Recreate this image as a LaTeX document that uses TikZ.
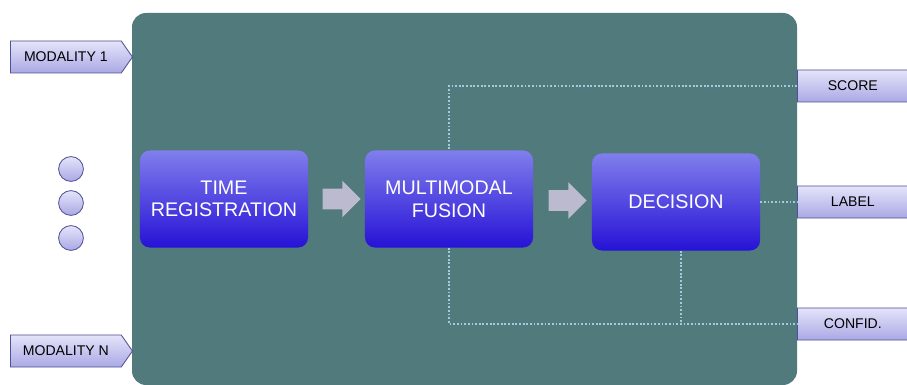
\documentclass[tikz,border=0pt]{standalone}
\usepackage{fontspec}
\setmainfont{Liberation Sans}
\usetikzlibrary{shapes.symbols,shapes.arrows,calc}

\definecolor{panelteal}{RGB}{80,122,124}
\definecolor{blocktop}{RGB}{128,126,236}
\definecolor{blockbot}{RGB}{38,18,214}
\definecolor{tagtop}{RGB}{228,228,250}
\definecolor{tagbot}{RGB}{170,168,228}
\definecolor{tagline}{RGB}{80,80,150}
\definecolor{arrowgray}{RGB}{188,186,206}
\definecolor{dotblue}{RGB}{160,204,222}

\tikzset{
	block/.style={rounded corners=7pt, minimum width=4.2cm, minimum height=2.425cm,
		top color=blocktop, bottom color=blockbot, text=white, align=center,
		font=\fontsize{14}{16}\selectfont},
	tag/.style={signal, signal to=east, signal pointer angle=110, draw=tagline, line width=0.6pt,
		top color=tagtop, bottom color=tagbot, minimum width=3.05cm, minimum height=0.8cm,
		inner sep=2pt, font=\fontsize{10}{12}\selectfont},
	flow/.style={single arrow, fill=arrowgray, minimum height=0.95cm, inner sep=0.25cm,
		single arrow head extend=0.2cm, single arrow head indent=0cm},
	bullet/.style={circle, draw=tagline, line width=0.6pt, top color=tagtop, bottom color=tagbot,
		minimum size=0.62cm, inner sep=0pt},
	link/.style={dotblue, dash pattern=on 1.3pt off 1.3pt, line width=1.8pt}
}

\begin{document}
\begin{tikzpicture}[x=0.025cm,y=-0.025cm]
	\clip (0,0) rectangle (907,385);
	\fill[white] (0,0) rectangle (907,385);
	% panel
	\fill[panelteal, rounded corners=10pt] (132,13) rectangle (797,385);

	% processing blocks
	\node[block] (timereg) at (224,199) {TIME\\REGISTRATION};
	\node[block] (fusion) at (449,199) {MULTIMODAL\\FUSION};
	\node[block] (decision) at (676,202) {DECISION};
	\node[flow] (arr1) at ($(timereg.east)!0.5!(fusion.west)$) {};
	\node[flow] (arr2) at ($(fusion.east)!0.5!(decision.west)$) {};

	% inputs
	\node[tag, anchor=west] (mod1) at (10,57) {MODALITY 1};
	\node[tag, anchor=west] (modN) at (10,351) {MODALITY N};
	\foreach \i/\y in {1/169,2/203,3/238}
		\node[bullet] (dot\i) at (71,\y) {};

	% outputs
	\node[tag, anchor=west] (score) at (797,86) {SCORE};
	\node[tag, anchor=west] (lbl) at (797,202) {LABEL};
	\node[tag, anchor=west] (confid) at (797,324) {CONFID.};

	\coordinate (c1) at (score.west -| fusion.north);
	\coordinate (c2) at (confid.west -| fusion.south);
	\coordinate (c3) at ($(confid.west -| decision.south)+(5,0)$);
	\draw[link] (score.west) -- (c1) -- (fusion.north);
	\draw[link] (fusion.south) -- (c2) -- (confid.west);
	\draw[link] (decision.south -| c3) -- (c3);
	\draw[link] (decision.east) -- (lbl.west);
\end{tikzpicture}
\end{document}
